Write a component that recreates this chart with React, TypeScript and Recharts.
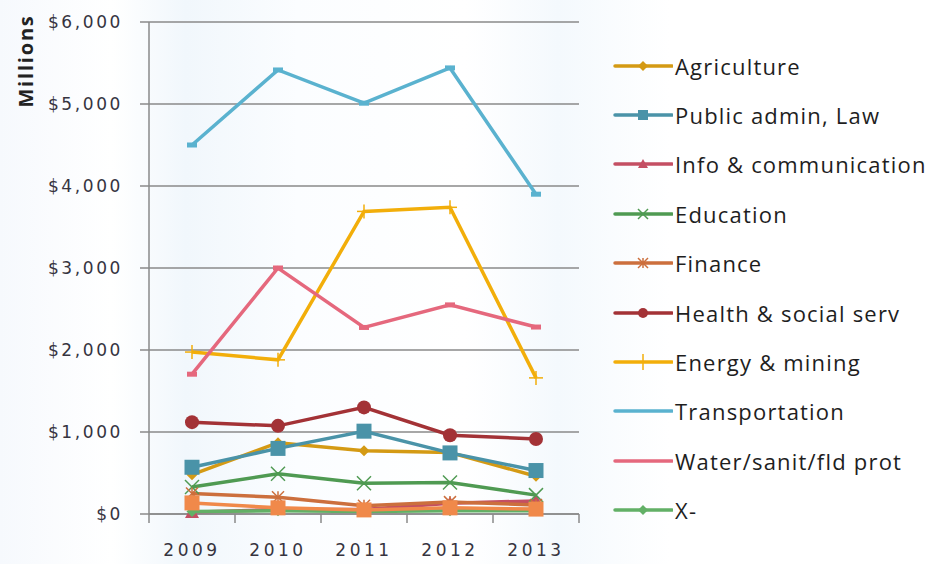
import React from "react";
import {
  LineChart, Line, XAxis, YAxis, CartesianGrid, Legend,
} from "recharts";

const W = 930;
const H = 564;
const PLOT_LEFT = 149;
const PLOT_RIGHT = 579;
const PLOT_TOP = 22;
const PLOT_BOTTOM = 514;

const years = ["2009", "2010", "2011", "2012", "2013"];
const yTicks = [0, 1000, 2000, 3000, 4000, 5000, 6000];

const agriculture = [480, 870, 770, 750, 460];
const publicAdmin = [570, 800, 1010, 745, 530];
const infoComm = [20, 55, 55, 130, 160];
const education = [330, 490, 375, 385, 230];
const finance = [250, 205, 100, 145, 110];
const health = [1120, 1075, 1300, 960, 915];
const energy = [1975, 1880, 3690, 3740, 1660];
const transportation = [4500, 5415, 5010, 5440, 3900];
const water = [1705, 3000, 2275, 2550, 2280];
const xMinus = [30, 40, 30, 40, 40];
const otherSector = [135, 75, 50, 75, 60];

type Shape = "diamond" | "square" | "triangle" | "x" | "star" | "circle" | "plus" | "dash";

interface SeriesDef {
  key: string;
  name: string;
  color: string;
  shape: Shape;
  values: number[];
  inLegend: boolean;
}

const SERIES: SeriesDef[] = [
  { key: "agri", name: "Agriculture", color: "#D49A14", shape: "diamond", values: agriculture, inLegend: true },
  { key: "pub", name: "Public admin, Law", color: "#4A93A8", shape: "square", values: publicAdmin, inLegend: true },
  { key: "info", name: "Info & communication", color: "#C44F63", shape: "triangle", values: infoComm, inLegend: true },
  { key: "edu", name: "Education", color: "#4F9A52", shape: "x", values: education, inLegend: true },
  { key: "fin", name: "Finance", color: "#CC6F3D", shape: "star", values: finance, inLegend: true },
  { key: "health", name: "Health & social serv", color: "#A33236", shape: "circle", values: health, inLegend: true },
  { key: "energy", name: "Energy & mining", color: "#F2AE0A", shape: "plus", values: energy, inLegend: true },
  { key: "trans", name: "Transportation", color: "#5AB2CF", shape: "dash", values: transportation, inLegend: true },
  { key: "water", name: "Water/sanit/fld prot", color: "#E5687D", shape: "dash", values: water, inLegend: true },
  { key: "xm", name: "X-", color: "#62B066", shape: "diamond", values: xMinus, inLegend: true },
  { key: "other", name: "Other", color: "#F0894A", shape: "square", values: otherSector, inLegend: false },
];

const data = years.map((year, i) => {
  const row: Record<string, string | number> = { year };
  SERIES.forEach((s) => { row[s.key] = s.values[i]; });
  return row;
});

const AXIS = "#8a8a8a";
const TEXT = "#36343f";

function Marker({ cx, cy, shape, color, size }: { cx: number; cy: number; shape: Shape; color: string; size: number }) {
  const r = size / 2;
  switch (shape) {
    case "diamond":
      return <polygon points={`${cx},${cy - r} ${cx + r},${cy} ${cx},${cy + r} ${cx - r},${cy}`} fill={color} />;
    case "square":
      return <rect x={cx - r} y={cy - r} width={size} height={size} fill={color} />;
    case "triangle":
      return <polygon points={`${cx},${cy - r} ${cx + r},${cy + r * 0.8} ${cx - r},${cy + r * 0.8}`} fill={color} />;
    case "x":
      return (
        <g stroke={color} strokeWidth={1.5}>
          <line x1={cx - r} y1={cy - r} x2={cx + r} y2={cy + r} />
          <line x1={cx - r} y1={cy + r} x2={cx + r} y2={cy - r} />
        </g>
      );
    case "star":
      return (
        <g stroke={color} strokeWidth={1.5}>
          <line x1={cx - r} y1={cy - r} x2={cx + r} y2={cy + r} />
          <line x1={cx - r} y1={cy + r} x2={cx + r} y2={cy - r} />
          <line x1={cx} y1={cy - r} x2={cx} y2={cy + r} />
        </g>
      );
    case "circle":
      return <circle cx={cx} cy={cy} r={r} fill={color} />;
    case "plus":
      return (
        <g stroke={color} strokeWidth={1.5}>
          <line x1={cx - r} y1={cy} x2={cx + r} y2={cy} />
          <line x1={cx} y1={cy - r} x2={cx} y2={cy + r} />
        </g>
      );
    case "dash":
      return <rect x={cx - r} y={cy - 2.5} width={size} height={5} fill={color} />;
  }
  return null;
}

const MARKER_SIZE: Record<Shape, number> = {
  diamond: 11, square: 15, triangle: 14, x: 14, star: 12, circle: 14, plus: 14, dash: 10,
};

const HALF_BAND = (PLOT_RIGHT - PLOT_LEFT) / years.length / 2;
const X_TICK_MARGIN = 28;

function XTick(props: any) {
  const { x, y, payload, index } = props;
  const axisY = y - X_TICK_MARGIN;
  return (
    <g>
      {index === 0 && <line x1={x - HALF_BAND} x2={x - HALF_BAND} y1={axisY} y2={axisY + 9} stroke={AXIS} strokeWidth={1.5} />}
      <line x1={x + HALF_BAND} x2={x + HALF_BAND} y1={axisY} y2={axisY + 9} stroke={AXIS} strokeWidth={1.5} />
      <text x={x} y={y} dy={14} textAnchor="middle" fill={TEXT} fontSize={17} letterSpacing={3.5} fontFamily="DejaVu Sans">
        {payload.value}
      </text>
    </g>
  );
}

function LegendBox() {
  return (
    <div style={{ fontFamily: "'Open Sans', sans-serif", fontSize: 22, color: "#1e1e1e" }}>
      {SERIES.filter((s) => s.inLegend).map((s) => (
        <div key={s.key} style={{ display: "flex", alignItems: "center", height: 49.4 }}>
          <svg width={60} height={20} style={{ flexShrink: 0 }}>
            <line x1={2} x2={59} y1={10} y2={10} stroke={s.color} strokeWidth={3.5} strokeLinecap="round" />
            {s.shape !== "dash" && <Marker cx={30} cy={10} shape={s.shape} color={s.color} size={s.shape === "plus" ? 16 : 10} />}
          </svg>
          <span style={{ marginLeft: 2, whiteSpace: "nowrap", letterSpacing: 1.2 }}>{s.name}</span>
        </div>
      ))}
    </div>
  );
}

export default function App() {
  return (
    <div
      style={{
        position: "absolute", left: 0, top: 0, width: W, height: H, overflow: "hidden",
        background: "linear-gradient(90deg, #f6f9fd 0%, #ffffff 12%, #f1f7fc 20%, #fbfdff 32%, #ffffff 50%, #f4f9fd 60%, #ffffff 72%, #ffffff 100%)",
      }}
    >
      <div
        style={{
          position: "absolute", left: 25, top: 61, transform: "translate(-50%, -50%) rotate(-90deg)",
          fontFamily: "'Open Sans', sans-serif", fontWeight: 700, fontSize: 20, color: "#222", letterSpacing: 1.8,
          whiteSpace: "nowrap",
        }}
      >
        Millions
      </div>
      <LineChart
        width={W}
        height={H}
        data={data}
        margin={{ top: PLOT_TOP, right: W - PLOT_RIGHT, bottom: 0, left: 0 }}
      >
        <CartesianGrid vertical={false} stroke={AXIS} strokeWidth={1.5} />
        <XAxis
          dataKey="year"
          height={H - PLOT_BOTTOM}
          padding={{ left: HALF_BAND, right: HALF_BAND }}
          stroke={AXIS}
          strokeWidth={1.5}
          tickLine={false}
          tickSize={0}
          tickMargin={X_TICK_MARGIN}
          tick={<XTick />}
          interval={0}
        />
        <YAxis
          width={PLOT_LEFT}
          domain={[0, 6000]}
          ticks={yTicks}
          interval={0}
          stroke={AXIS}
          strokeWidth={1.5}
          tickSize={9}
          tickMargin={17}
          tick={{ fill: TEXT, fontSize: 17, fontFamily: "DejaVu Sans", letterSpacing: 2.6 }}
          tickFormatter={(v: number) => `$${v.toLocaleString("en-US")}`}
        />
        <Legend
          layout="vertical"
          align="center"
          verticalAlign="middle"
          wrapperStyle={{ left: 613, top: 41, width: 320 }}
          content={() => <LegendBox />}
        />
        {SERIES.map((s) => (
          <Line
            key={s.key}
            type="linear"
            dataKey={s.key}
            name={s.name}
            stroke={s.color}
            strokeWidth={3.5}
            legendType="none"
            isAnimationActive={false}
            activeDot={false}
            dot={(p: any) => (
              <g key={`${s.key}-${p.index}`}>
                <Marker cx={p.cx} cy={p.cy} shape={s.shape} color={s.color} size={MARKER_SIZE[s.shape]} />
              </g>
            )}
          />
        ))}
      </LineChart>
    </div>
  );
}
